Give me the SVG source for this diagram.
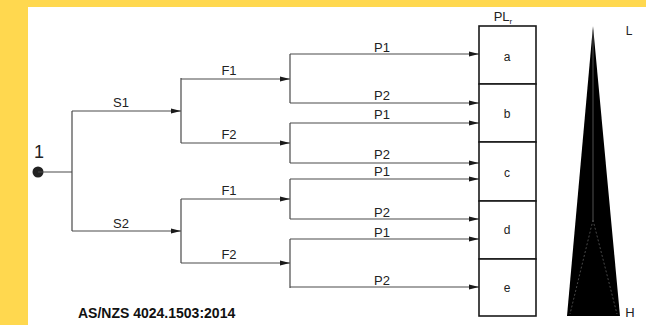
<svg xmlns="http://www.w3.org/2000/svg" width="646" height="325" viewBox="0 0 646 325">
<defs>
<marker id="arr" markerWidth="10" markerHeight="6" refX="10" refY="3" orient="auto" markerUnits="userSpaceOnUse">
<path d="M0,0.6 L10,3 L0,5.4 Z" fill="#1a1a1a"/>
</marker>
<style>
.ln{fill:none;stroke:#4a4a4a;stroke-width:1.2}
.cn{fill:none;stroke:#4a4a4a;stroke-width:1.2;marker-end:url(#arr)}
.t{font-family:"Liberation Sans",Arial,sans-serif;font-size:13px;fill:#222;text-anchor:middle}
.box{fill:#fff;stroke:#1a1a1a;stroke-width:1.6}
</style>
</defs>
<rect x="0" y="0" width="646" height="325" fill="#FFD84F"/>
<rect x="28" y="7" width="618" height="318" fill="#fff"/>

<g id="start">
<circle cx="38" cy="172" r="5.5" fill="#222"/>
<text x="39" y="158" class="t" style="font-size:18px">1</text>
</g>

<g id="connectors">
<path class="ln" d="M38,172 H72 M72,111 V231"/>
<path class="cn" d="M72,111 H181"/>
<path class="cn" d="M72,231 H181"/>
<path class="ln" d="M181,78 V143 M181,199 V263"/>
<path class="cn" d="M181,79 H290"/>
<path class="cn" d="M181,143 H290"/>
<path class="cn" d="M181,199 H290"/>
<path class="cn" d="M181,263 H290"/>
<path class="ln" d="M290,54 V103 M290,123 V163 M290,179 V219 M290,239 V288"/>
<path class="cn" d="M290,54 H479"/>
<path class="cn" d="M290,103 H479"/>
<path class="cn" d="M290,123 H479"/>
<path class="cn" d="M290,163 H479"/>
<path class="cn" d="M290,179 H479"/>
<path class="cn" d="M290,219 H479"/>
<path class="cn" d="M290,239 H479"/>
<path class="cn" d="M290,287 H479"/>
</g>

<g id="labels">
<text x="121" y="107" class="t">S1</text>
<text x="121" y="228" class="t">S2</text>
<text x="229" y="75" class="t">F1</text>
<text x="229" y="139" class="t">F2</text>
<text x="229" y="195" class="t">F1</text>
<text x="229" y="259" class="t">F2</text>
<text x="382" y="52" class="t">P1</text>
<text x="382" y="100" class="t">P2</text>
<text x="382" y="119" class="t">P1</text>
<text x="382" y="159" class="t">P2</text>
<text x="382" y="176" class="t">P1</text>
<text x="382" y="217" class="t">P2</text>
<text x="382" y="237" class="t">P1</text>
<text x="382" y="285" class="t">P2</text>
</g>

<g id="plr">
<text x="503" y="21" class="t">PL<tspan font-size="8" dy="3">r</tspan></text>
<rect class="box" x="479" y="26" width="57" height="58"/>
<rect class="box" x="479" y="84" width="57" height="58"/>
<rect class="box" x="479" y="142" width="57" height="59"/>
<rect class="box" x="479" y="201" width="57" height="58"/>
<rect class="box" x="479" y="259" width="57" height="57"/>
<text x="507" y="61" class="t" style="font-size:12px">a</text>
<text x="507" y="118" class="t" style="font-size:12px">b</text>
<text x="507" y="177" class="t" style="font-size:12px">c</text>
<text x="507" y="234" class="t" style="font-size:12px">d</text>
<text x="507" y="292" class="t" style="font-size:12px">e</text>
</g>

<g id="scale">
<polygon points="593,26 620,316 567,316" fill="#000"/>
<path d="M593,30 V220" stroke="#888" stroke-width="0.6" fill="none"/>
<path d="M593,220 L570,314 M593,220 L617,314" stroke="#777" stroke-width="0.6" stroke-dasharray="2,2" fill="none"/>
<text x="629" y="35" class="t" style="font-size:12px">L</text>
<text x="630" y="317" class="t" style="font-size:13px">H</text>
</g>

<text x="78" y="318" style="font-family:'Liberation Sans',Arial,sans-serif;font-size:14px;font-weight:bold;fill:#111">AS/NZS 4024.1503:2014</text>
</svg>
